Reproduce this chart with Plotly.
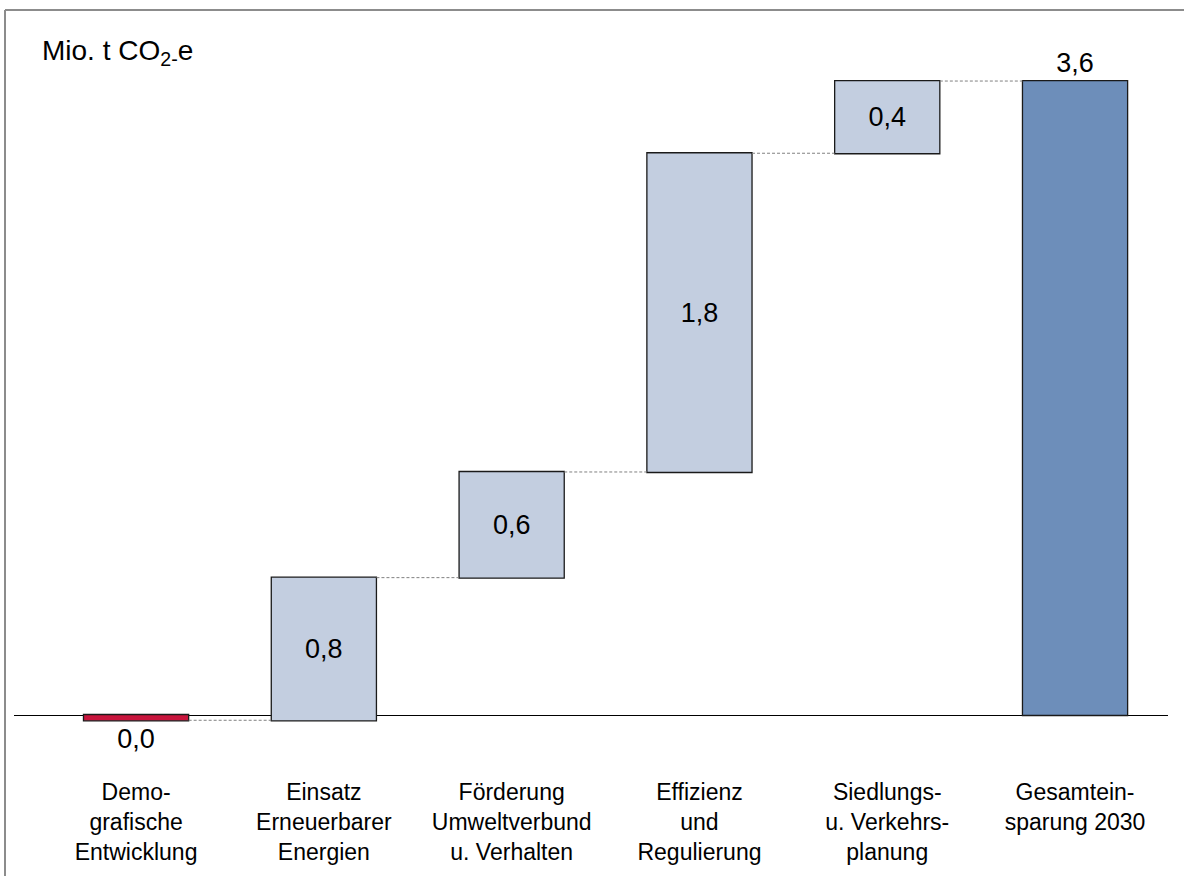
import plotly.graph_objects as go

# Contributions to CO2e savings by 2030 (Mio. t CO2e)
categories = [
    "Demo-<br>grafische<br>Entwicklung",
    "Einsatz<br>Erneuerbarer<br>Energien",
    "Förderung<br>Umweltverbund<br>u. Verhalten",
    "Effizienz<br>und<br>Regulierung",
    "Siedlungs-<br>u. Verkehrs-<br>planung",
    "Gesamtein-<br>sparung 2030",
]
contributions = [-0.03, 0.81, 0.60, 1.81, 0.41]
total = sum(contributions)
values = contributions + [total]
measures = ["relative"] * len(contributions) + ["total"]


def fmt(v):
    r = round(v, 1) or 0.0
    return f"{r:.1f}".replace(".", ",")


labels = [fmt(v) for v in values]
text_pos = ["outside", "inside", "inside", "inside", "inside", "outside"]

W, H = 1184, 876
ML, MR, MT, MB = 14, 16, 40, 116
plot_w = W - ML - MR
plot_h = H - MT - MB
px_per_unit = 176.1
zero_px = 715  # pixel row of the zero line
y_max = (zero_px - MT) / px_per_unit
y_min = -(H - MB - zero_px) / px_per_unit

FONT = "Arial, Liberation Sans, sans-serif"

fig = go.Figure(
    go.Waterfall(
        x=list(range(len(categories))),
        y=values,
        measure=measures,
        text=labels,
        textposition=text_pos,
        textfont=dict(family=FONT, size=27, color="black"),
        insidetextanchor="middle",
        constraintext="none",
        width=0.56,
        increasing=dict(marker=dict(color="#C3CEE0", line=dict(color="#1a1a1a", width=1.3))),
        decreasing=dict(marker=dict(color="#C8143C", line=dict(color="#1a1a1a", width=1.3))),
        totals=dict(marker=dict(color="#6D8EBA", line=dict(color="#1a1a1a", width=1.3))),
        connector=dict(mode="between", line=dict(color="#808080", width=1, dash="3px,2px")),
        cliponaxis=False,
        hoverinfo="skip",
    )
)


def px_x(p):
    return (p - ML) / plot_w


def px_y(p):
    return (H - MB - p) / plot_h


fig.update_layout(
    width=W,
    height=H,
    margin=dict(l=ML, r=MR, t=MT, b=MB),
    paper_bgcolor="white",
    plot_bgcolor="white",
    showlegend=False,
    font=dict(family=FONT, color="black"),
    xaxis=dict(
        range=[-0.65, 5.495],
        tickmode="array",
        tickvals=list(range(len(categories))),
        ticktext=categories,
        tickfont=dict(family=FONT, size=23, color="black"),
        showgrid=False,
        zeroline=False,
        showline=False,
        ticks="",
        ticklabelstandoff=16,
        fixedrange=True,
    ),
    yaxis=dict(
        range=[y_min, y_max],
        showgrid=False,
        showticklabels=False,
        ticks="",
        zeroline=True,
        zerolinecolor="black",
        zerolinewidth=1,
        showline=False,
        fixedrange=True,
    ),
    annotations=[
        dict(
            text="Mio. t CO<sub>2-</sub>e",
            xref="paper",
            yref="paper",
            x=px_x(40),
            y=px_y(52),
            xanchor="left",
            yanchor="middle",
            showarrow=False,
            font=dict(family=FONT, size=28, color="black"),
        )
    ],
    shapes=[
        dict(type="line", xref="paper", yref="paper",
             x0=px_x(5), x1=px_x(W + 5), y0=px_y(10), y1=px_y(10),
             line=dict(color="#8c8c8c", width=2)),
        dict(type="line", xref="paper", yref="paper",
             x0=px_x(5), x1=px_x(5), y0=px_y(10), y1=px_y(H + 5),
             line=dict(color="#8c8c8c", width=2)),
    ],
)

fig.write_html("out.html")
